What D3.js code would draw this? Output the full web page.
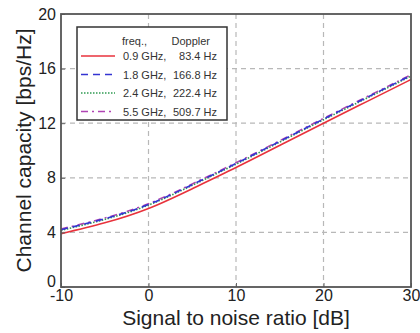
<!DOCTYPE html>
<html>
<head>
<meta charset="utf-8">
<script src="https://cdn.jsdelivr.net/npm/d3@7"></script>
<style>
  body { margin: 0; background: #fff; }
  svg { display: block; font-family: "Liberation Sans", Arial, sans-serif; }
</style>
</head>
<body>
<svg width="420" height="333"></svg>
<script>
// SNR in dB and capacity [bps/Hz]
var snr = [-10, -5, 0, 5, 10, 15, 20, 25, 30];
var cap09 = [3.9, 4.7, 5.75, 7.2, 8.75, 10.37, 12.0, 13.6, 15.2];
var cap18 = [4.2, 5.0, 6.05, 7.5, 9.05, 10.67, 12.3, 13.9, 15.5];
var cap24 = [4.15, 4.95, 6.0, 7.45, 9.0, 10.62, 12.25, 13.85, 15.45];
var cap55 = [4.25, 5.05, 6.1, 7.55, 9.1, 10.72, 12.35, 13.95, 15.55];
var freqLabels = ["0.9 GHz,", "1.8 GHz,", "2.4 GHz,", "5.5 GHz,"];
var dopplerLabels = ["83.4 Hz", "166.8 Hz", "222.4 Hz", "509.7 Hz"];
var xTicks = [-10, 0, 10, 20, 30];
var yTicks = [0, 4, 8, 12, 16, 20];

var series = [
  { vals: cap09, color: "#e8323c", dash: null },
  { vals: cap18, color: "#3434d2", dash: "7,5" },
  { vals: cap24, color: "#2f9a52", dash: "1.5,1.5" },
  { vals: cap55, color: "#b044b4", dash: "7,4,2,4" }
];

var svg = d3.select("svg");
var pl = 61, pr = 411, pt = 14, pb = 287;

var x = d3.scaleLinear().domain([-10, 30]).range([pl, pr]);
var y = d3.scaleLinear().domain([0, 20]).range([pb, pt]);

// grid
var grid = svg.append("g").attr("stroke", "#b8b8b8").attr("stroke-width", 1.2).attr("stroke-dasharray", "5,4");
xTicks.slice(1, -1).forEach(function (t) {
  grid.append("line").attr("x1", x(t)).attr("x2", x(t)).attr("y1", pt).attr("y2", pb);
});
yTicks.slice(1, -1).forEach(function (t) {
  grid.append("line").attr("x1", pl).attr("x2", pr).attr("y1", y(t)).attr("y2", y(t));
});

// curves
var line = d3.line()
  .x(function (d, i) { return x(snr[i]); })
  .y(function (d) { return y(d); })
  .curve(d3.curveNatural);

series.slice().reverse().forEach(function (s) {
  svg.append("path")
    .attr("d", line(s.vals))
    .attr("fill", "none")
    .attr("stroke", s.color)
    .attr("stroke-width", 1.6)
    .attr("stroke-dasharray", s.dash);
});

// axes
var fmt = function (d) { return String(d); };
var xAxis = svg.append("g").attr("transform", "translate(0," + pb + ")")
  .call(d3.axisBottom(x).tickValues(xTicks).tickFormat(fmt).tickSize(-4).tickPadding(3));
var yAxis = svg.append("g").attr("transform", "translate(" + pl + ",0)")
  .call(d3.axisLeft(y).tickValues(yTicks).tickFormat(fmt).tickSize(-4).tickPadding(5));
[xAxis, yAxis].forEach(function (a) {
  a.select(".domain").remove();
  a.selectAll("line").attr("stroke", "#666");
  a.selectAll("text").attr("font-size", 16).attr("fill", "#222")
    .attr("font-family", "Liberation Sans, Arial, sans-serif");
});
// lift the y "0" a little, as in the original, so it clears "-10"
yAxis.selectAll(".tick text").filter(function (d) { return d === 0; }).attr("dy", "-0.06em");

svg.append("rect")
  .attr("x", pl).attr("y", pt)
  .attr("width", pr - pl).attr("height", pb - pt)
  .attr("fill", "none").attr("stroke", "#555").attr("stroke-width", 1.8);

// axis titles
svg.append("text")
  .attr("x", (pl + pr) / 2).attr("y", 325)
  .attr("text-anchor", "middle").attr("font-size", 21).attr("fill", "#222")
  .text("Signal to noise ratio [dB]");
svg.append("text")
  .attr("transform", "translate(31," + (pt + pb) / 2 + ") rotate(-90)")
  .attr("text-anchor", "middle").attr("font-size", 21).attr("fill", "#222")
  .text("Channel capacity [bps/Hz]");

// legend
var lg = svg.append("g");
lg.append("rect").attr("x", 77).attr("y", 27).attr("width", 150).attr("height", 93)
  .attr("fill", "#fff").attr("stroke", "#333").attr("stroke-width", 1.5);
lg.append("text").attr("x", 122).attr("y", 44.5).attr("font-size", 11).attr("fill", "#333").text("freq.,");
lg.append("text").attr("x", 210).attr("y", 44.5).attr("font-size", 11).attr("fill", "#333")
  .attr("text-anchor", "end").text("Doppler");
series.forEach(function (s, i) {
  var yy = 56 + i * 18.5;
  lg.append("line").attr("x1", 81).attr("x2", 115).attr("y1", yy).attr("y2", yy)
    .attr("stroke", s.color).attr("stroke-width", 1.6).attr("stroke-dasharray", s.dash);
  lg.append("text").attr("x", 123).attr("y", yy + 4).attr("font-size", 11).attr("fill", "#333")
    .text(freqLabels[i]);
  lg.append("text").attr("x", 217).attr("y", yy + 4).attr("font-size", 11).attr("fill", "#333")
    .attr("text-anchor", "end").text(dopplerLabels[i]);
});
</script>
</body>
</html>
